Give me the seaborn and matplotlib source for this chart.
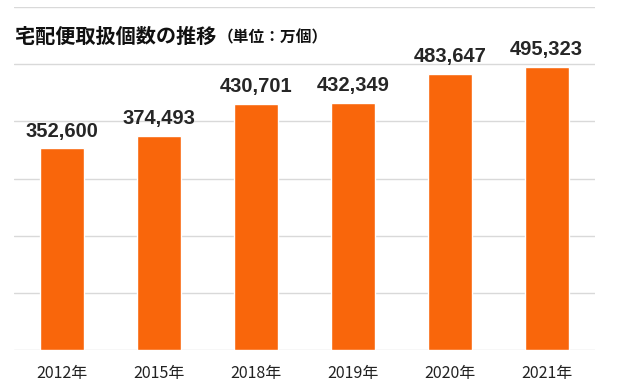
import matplotlib
matplotlib.use("Agg")
import matplotlib.pyplot as plt
import pandas as pd
import seaborn as sns

years = ["2012年", "2015年", "2018年", "2019年", "2020年", "2021年"]
counts = [352600, 374493, 430701, 432349, 483647, 495323]

df = pd.DataFrame({"year": years, "count": counts})

sns.set_style("white")
plt.rcParams["font.family"] = ["Noto Sans CJK JP", "DejaVu Sans"]

fig = plt.figure(figsize=(6.24, 3.87), dpi=100)
ax = fig.add_axes([14 / 624, 1 - 350 / 387, 581 / 624, 343 / 387])

sns.barplot(data=df, x="year", y="count", color="#F9660B", saturation=1,
            width=0.455, ax=ax)

ax.set_ylim(0, 600000)
ax.set_xlim(-0.5, 5.5)
ax.set_yticks(range(0, 600001, 100000))
ax.set_yticklabels([])
ax.yaxis.grid(True, color="#D9D9D9", linewidth=1)
ax.set_axisbelow(True)
ax.tick_params(axis="both", length=0)
ax.tick_params(axis="x", pad=11, labelsize=11.5, labelcolor="#222222")
ax.set_xlabel("")
ax.set_ylabel("")
sns.despine(ax=ax, left=True, bottom=True)

ax.bar_label(ax.containers[0], fmt="{:,.0f}", padding=5.5, fontsize=14.5,
             fontweight="bold", family=["Liberation Sans", "DejaVu Sans"])

fig.text(15 / 624, 1 - 36 / 387, "宅配便取扱個数の推移", fontsize=14.5,
         fontweight="bold", va="center", ha="left", color="#111111")
fig.text(218 / 624, 1 - 37 / 387, "（単位：万個）", fontsize=11.3,
         fontweight="bold", va="center", ha="left", color="#111111")

fig.savefig("out.png", dpi=100)
